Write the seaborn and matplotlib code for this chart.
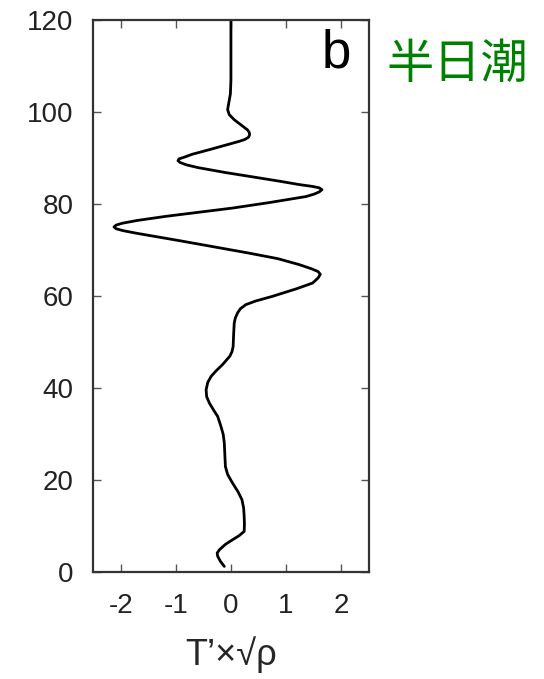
import matplotlib
matplotlib.use("Agg")
import matplotlib.pyplot as plt
import seaborn as sns
import pandas as pd

# Semidiurnal tide temperature perturbation profile (scaled by sqrt(rho))
amplitude = [0.0, 0.0, -0.01, -0.04, -0.06, -0.03, 0.06, 0.18, 0.30, 0.33,
             0.34, 0.32, 0.25, 0.15, -0.39, -0.70, -0.86, -0.94, -0.96, -0.92,
             -0.81, -0.60, -0.09, 0.33, 0.90, 1.24, 1.48, 1.60, 1.65, 1.60,
             1.50, 1.36, 0.70, 0.03, -1.18, -1.70, -1.97, -2.08, -2.12, -2.08,
             -1.96, -1.70, -0.88, 0.33, 0.85, 1.24, 1.46, 1.58, 1.62, 1.58,
             1.48, 1.20, 0.75, 0.45, 0.27, 0.17, 0.12, 0.08, 0.06, 0.05,
             0.04, 0.02, -0.02, -0.15, -0.27, -0.36, -0.42, -0.45, -0.44, -0.39,
             -0.31, -0.24, -0.18, -0.14, -0.12, -0.11, -0.10, -0.06, 0.03, 0.13,
             0.20, 0.23, 0.24, 0.245, 0.24, 0.15, 0.03, -0.10, -0.21, -0.25,
             -0.24, -0.19, -0.12]
altitude = [120.0, 107.0, 104.0, 102.0, 100.6, 99.5, 98.4, 97.3, 96.2, 95.7,
            95.2, 94.6, 94.1, 93.7, 91.9, 90.9, 90.2, 89.9, 89.5, 89.1,
            88.6, 88.0, 86.9, 86.1, 85.0, 84.3, 83.9, 83.6, 83.2, 82.7,
            82.2, 81.7, 80.4, 79.2, 77.4, 76.5, 75.9, 75.5, 75.1, 74.7,
            74.3, 73.7, 72.0, 69.4, 68.2, 66.9, 66.0, 65.4, 64.8, 64.0,
            62.9, 61.7, 60.0, 59.0, 58.2, 57.3, 56.4, 55.3, 54.2, 52.0,
            49.1, 48.0, 47.0, 45.2, 43.8, 42.6, 41.3, 39.7, 38.2, 36.8,
            35.2, 33.9, 31.7, 30.0, 28.1, 25.5, 23.0, 21.3, 19.4, 17.5,
            15.8, 14.0, 12.2, 10.5, 8.9, 8.0, 7.1, 6.1, 4.9, 4.2,
            3.5, 2.4, 1.3]

x_ticks = [-2, -1, 0, 1, 2]
y_ticks = [0, 20, 40, 60, 80, 100, 120]
panel_label = "b"
side_title = "半日潮"
x_label = "T’×√ρ"

sns.set_theme(style="ticks")
plt.rcParams["font.family"] = ["Liberation Sans", "DejaVu Sans"]

df = pd.DataFrame({"amp": amplitude, "alt": altitude})

fig = plt.figure(figsize=(5.44, 6.79), dpi=100)
ax = fig.add_axes([0.171, 0.157, 0.507, 0.813])

sns.lineplot(data=df, x="amp", y="alt", sort=False, estimator=None,
             color="black", linewidth=2.0, ax=ax)
for ln in ax.get_lines():
    ln.set_solid_joinstyle("round")
    ln.set_solid_capstyle("round")

ax.set_xlim(-2.5, 2.5)
ax.set_ylim(0, 120)
ax.set_xticks(x_ticks)
ax.set_yticks(y_ticks)
ax.set_xticklabels([str(v) for v in x_ticks])
ax.set_yticklabels([str(v) for v in y_ticks])
ax.set_xlabel(x_label, fontsize=26, labelpad=12)
ax.set_ylabel("")

for s in ax.spines.values():
    s.set_color("#333333")
    s.set_linewidth(1.6)
ax.tick_params(axis="both", direction="in", length=6, width=1.0,
               color="#555555", top=True, right=True, labelsize=20,
               labelcolor="#222222")
ax.tick_params(axis="x", pad=15)
ax.tick_params(axis="y", pad=14)

ax.text(0.884, 0.914, panel_label, transform=ax.transAxes, ha="center",
        va="baseline", fontsize=38, color="black")

fig.text(0.711, 0.904, side_title, ha="left", va="center", fontsize=34,
         color="#008000", family=["Noto Sans CJK SC", "DejaVu Sans"])

fig.savefig("out.png", dpi=100)
